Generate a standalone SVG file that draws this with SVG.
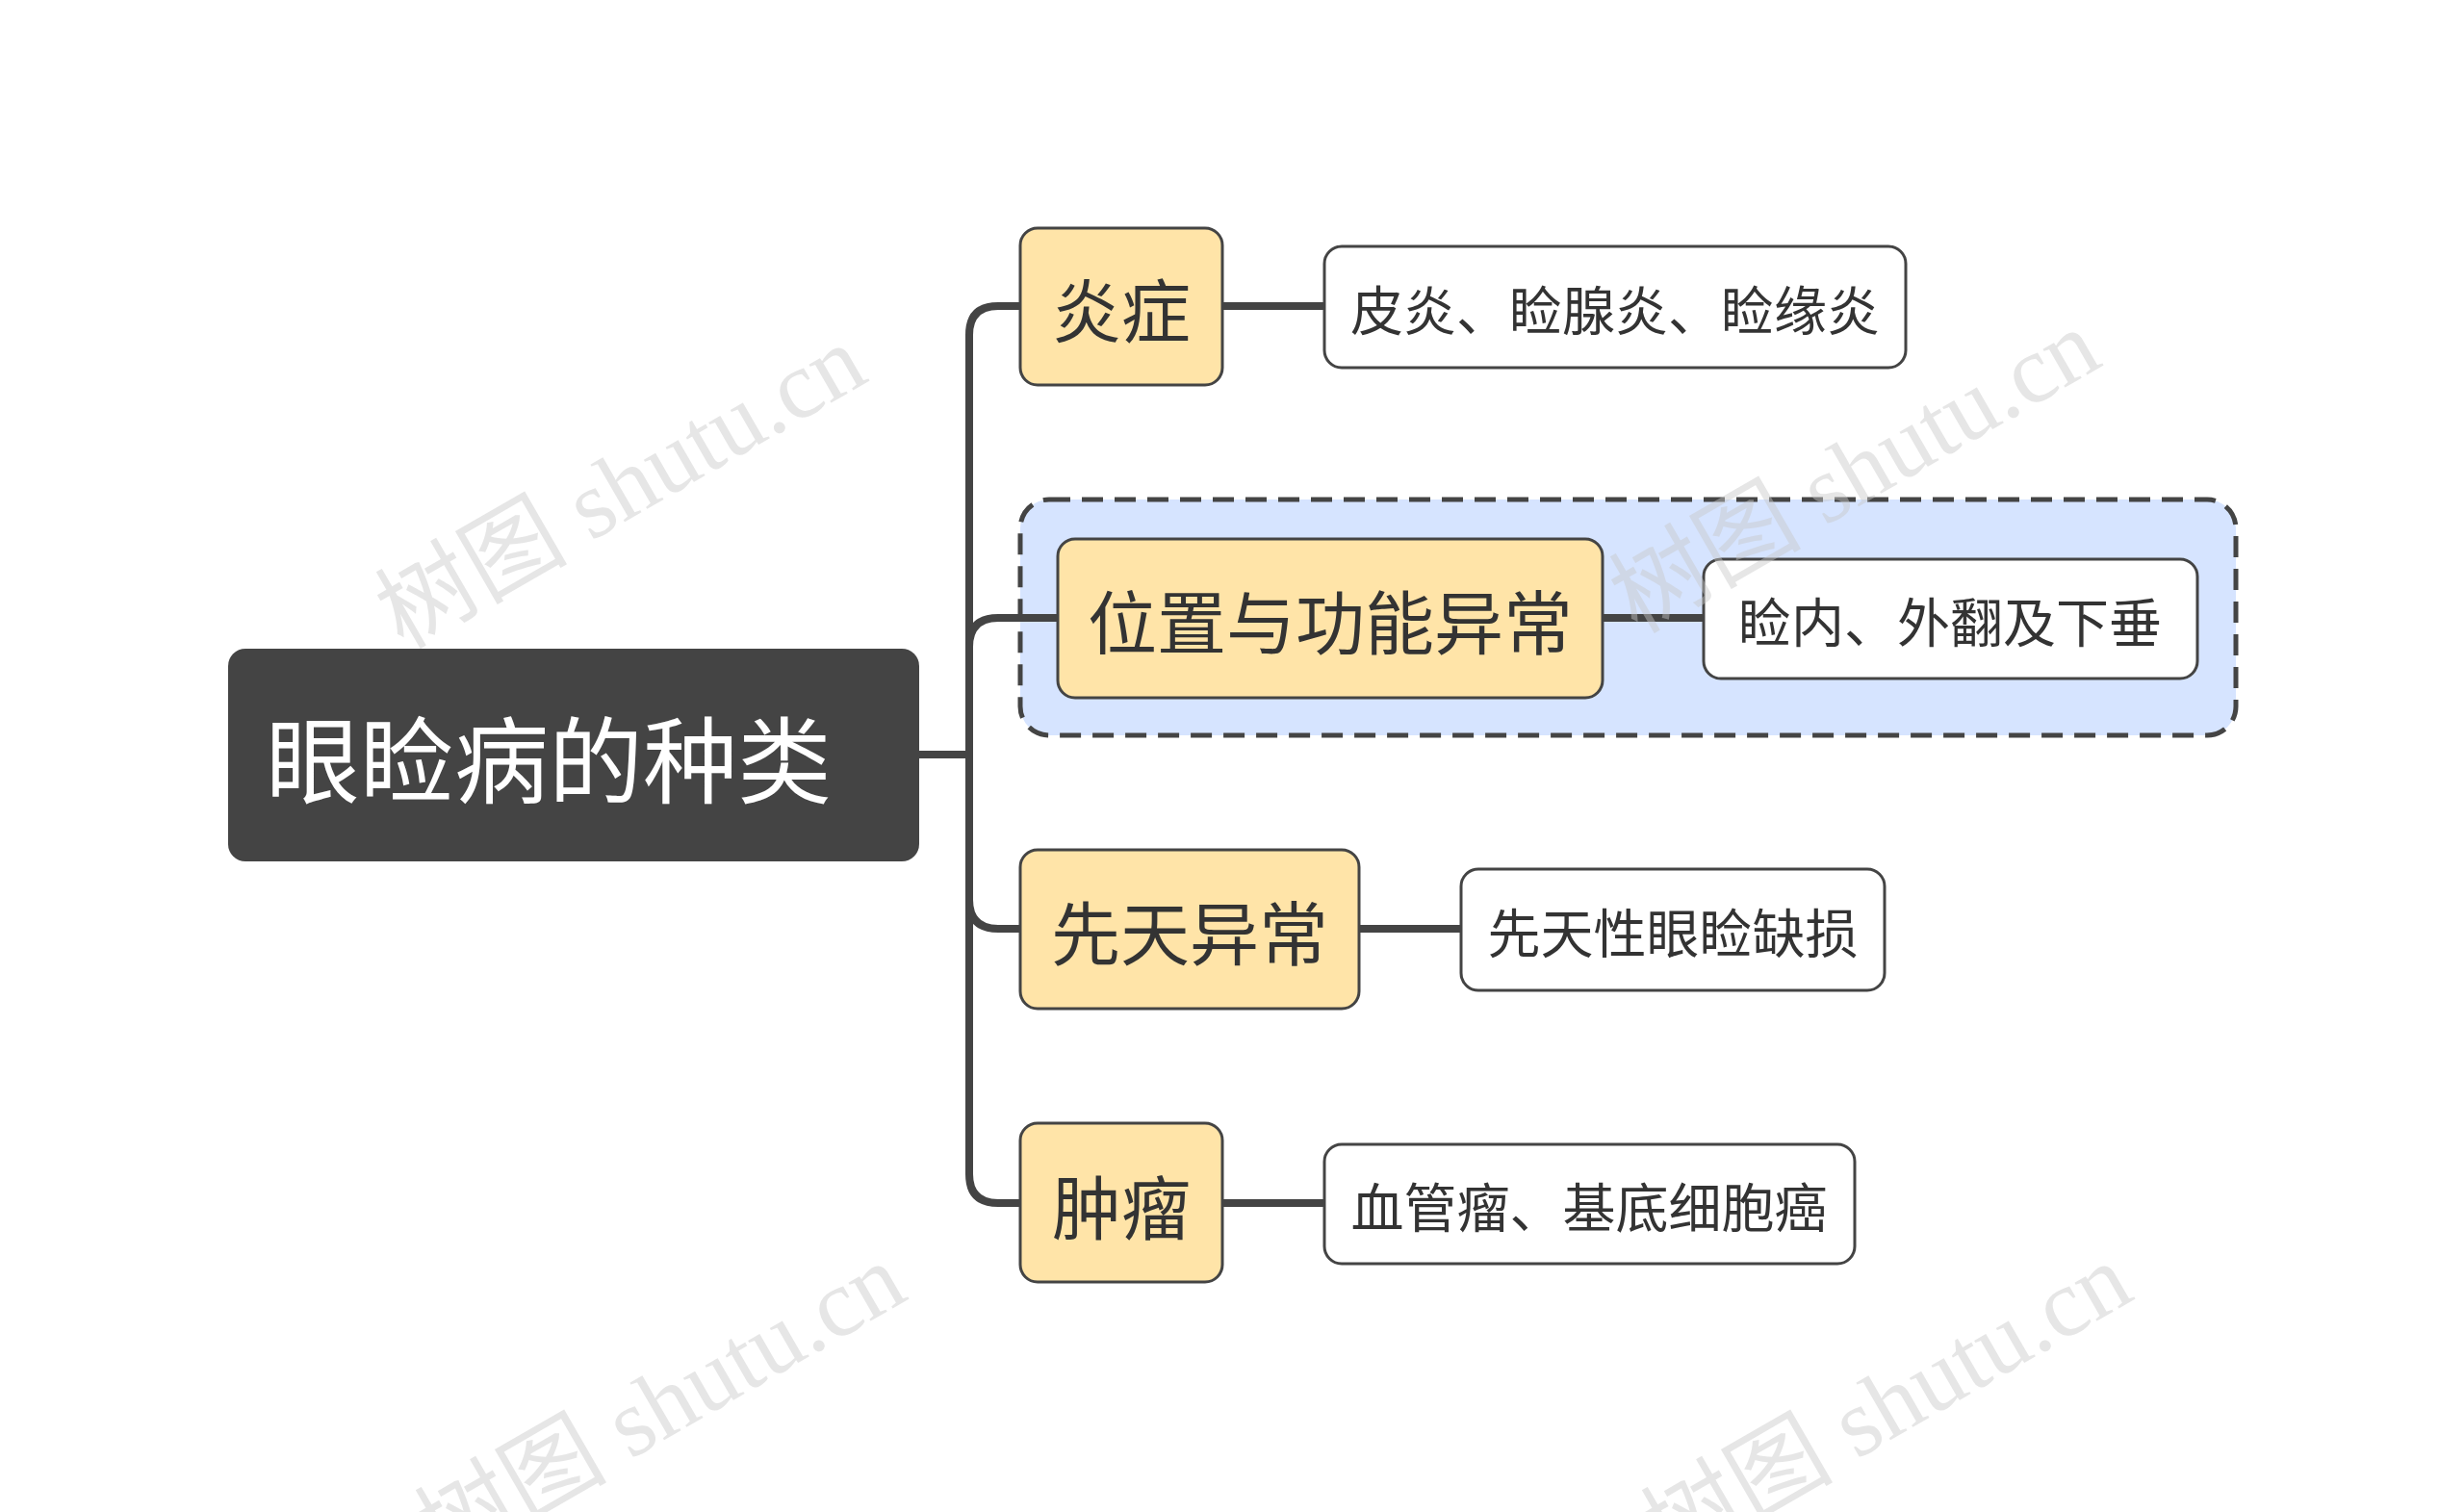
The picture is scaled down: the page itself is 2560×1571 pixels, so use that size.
<svg xmlns="http://www.w3.org/2000/svg" width="2560" height="1571" viewBox="0 0 2560 1571">
<style>
.cat rect{fill:#ffe4a8;stroke:#444;stroke-width:3}
.leaf rect{fill:#fff;stroke:#444;stroke-width:3}
text{font-family:"Noto Sans CJK SC","Noto Sans",sans-serif;fill:#333;dominant-baseline:central}
.c{font-size:72px;text-anchor:middle}
.l{font-size:55px;text-anchor:middle}
.wm{font-size:100px;fill:#c8c8c8;opacity:0.45;font-family:"Liberation Serif","Noto Sans CJK SC",serif}
#conn path{fill:none;stroke:#444;stroke-width:8}
</style>
<rect width="2560" height="1571" fill="#fff"/>
<rect x="1060" y="519" width="1263" height="245" rx="30" fill="#d6e4ff" stroke="#444" stroke-width="5" stroke-dasharray="22 12"/>
<g id="conn">
<path d="M955 784 H1007"/>
<path d="M1060 318 H1037 Q1007 318 1007 348 V1220 Q1007 1250 1037 1250 H1060"/>
<path d="M1007 672 Q1007 642 1037 642 H1099"/>
<path d="M1007 935 Q1007 965 1037 965 H1060"/>
<path d="M1270 318 H1376"/>
<path d="M1665 642 H1770"/>
<path d="M1412 965 H1518"/>
<path d="M1270 1250 H1376"/>
</g>
<g id="root"><rect x="237" y="674" width="718" height="221" rx="18" fill="#444"/><text x="570" y="784" style="font-size:98px;fill:#fff;text-anchor:middle">眼睑病的种类</text></g>
<g id="n1" class="cat"><rect x="1060" y="237" width="210" height="163" rx="18"/><text class="c" x="1165" y="318">炎症</text></g>
<g id="n2" class="cat"><rect x="1099" y="560" width="566" height="165" rx="18"/><text class="c" x="1382" y="642">位置与功能异常</text></g>
<g id="n3" class="cat"><rect x="1060" y="883" width="352" height="165" rx="18"/><text class="c" x="1236" y="965">先天异常</text></g>
<g id="n4" class="cat"><rect x="1060" y="1167" width="210" height="165" rx="18"/><text class="c" x="1165" y="1250">肿瘤</text></g>
<g id="l1" class="leaf"><rect x="1376" y="256" width="604" height="126" rx="18"/><text class="l" x="1678" y="319">皮炎、睑腺炎、睑缘炎</text></g>
<g id="l2" class="leaf"><rect x="1770" y="581" width="513" height="124" rx="18"/><text class="l" x="2026" y="643">睑内、外翻及下垂</text></g>
<g id="l3" class="leaf"><rect x="1518" y="903" width="440" height="126" rx="18"/><text class="l" x="1738" y="966">先天性眼睑缺损</text></g>
<g id="l4" class="leaf"><rect x="1376" y="1189" width="551" height="124" rx="18"/><text class="l" x="1651" y="1251">血管瘤、基底细胞癌</text></g>
<g>
<text class="wm" transform="translate(645,506) rotate(-30)" text-anchor="middle">树图 shutu.cn</text>
<text class="wm" transform="translate(1927,490) rotate(-30)" text-anchor="middle">树图 shutu.cn</text>
<text class="wm" transform="translate(686,1460) rotate(-30)" text-anchor="middle">树图 shutu.cn</text>
<text class="wm" transform="translate(1960,1460) rotate(-30)" text-anchor="middle">树图 shutu.cn</text>
</g>
</svg>
